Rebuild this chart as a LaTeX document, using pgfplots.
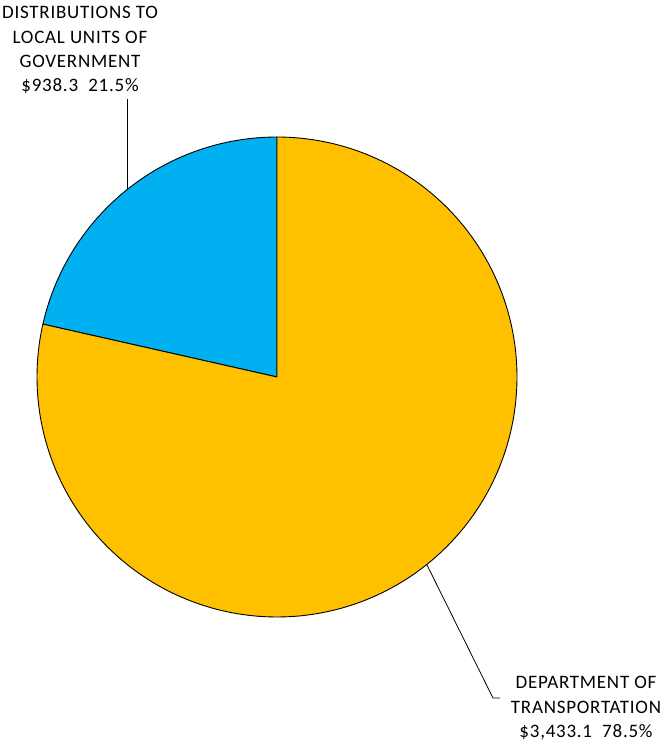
\documentclass[border=0pt]{standalone}
\usepackage{pgfplots}
\pgfplotsset{compat=1.18}
\usepackage{fontspec}
\setmainfont{Carlito}[LetterSpace=4]
\definecolor{pieblue}{HTML}{00B0F0}
\definecolor{pieorange}{HTML}{FFC000}
\begin{document}
\begin{tikzpicture}[lbl/.style={font=\fontsize{19}{24}\selectfont, anchor=base, inner sep=0pt}]
\pgfmathsetmacro{\va}{938.3}
\pgfmathsetmacro{\vb}{3433.1}
\pgfmathsetmacro{\fr}{\va/(\va+\vb)}
\pgfmathsetmacro{\angA}{90+360*\fr}
\begin{axis}[
  at={(0pt,0pt)}, anchor=south west,
  x=1pt, y=1pt, scale only axis,
  xmin=-277, xmax=383, ymin=-363, ymax=377,
  hide axis, clip=false
]
\addplot[data cs=polar, domain=90:\angA, samples=120, fill=pieblue, draw=black, line width=0.9pt, line join=round]
  (x,240) -- (axis cs:0,0) -- cycle;
\addplot[data cs=polar, domain=\angA:450, samples=300, fill=pieorange, draw=black, line width=0.9pt, line join=round]
  (x,240) -- (axis cs:0,0) -- cycle;
\addplot[black, line width=0.8pt] coordinates {(-150,278) (-150,187)};
\addplot[black, line width=0.8pt] coordinates {(150,-188) (216,-321) (223,-321)};
\node[lbl] at (axis cs:-197,358.7) {DISTRIBUTIONS TO};
\node[lbl] at (axis cs:-197,333.7) {LOCAL UNITS OF};
\node[lbl] at (axis cs:-197,309.5) {GOVERNMENT};
\node[lbl] at (axis cs:-197,285) {\$938.3\ \ 21.5\%};
\node[lbl] at (axis cs:309,-311) {DEPARTMENT OF};
\node[lbl] at (axis cs:309,-336) {TRANSPORTATION};
\node[lbl] at (axis cs:309,-361) {\$3,433.1\ \ 78.5\%};
\end{axis}
\pgfresetboundingbox
\useasboundingbox (0pt,0pt) rectangle (660pt,740pt);
\end{tikzpicture}
\end{document}
